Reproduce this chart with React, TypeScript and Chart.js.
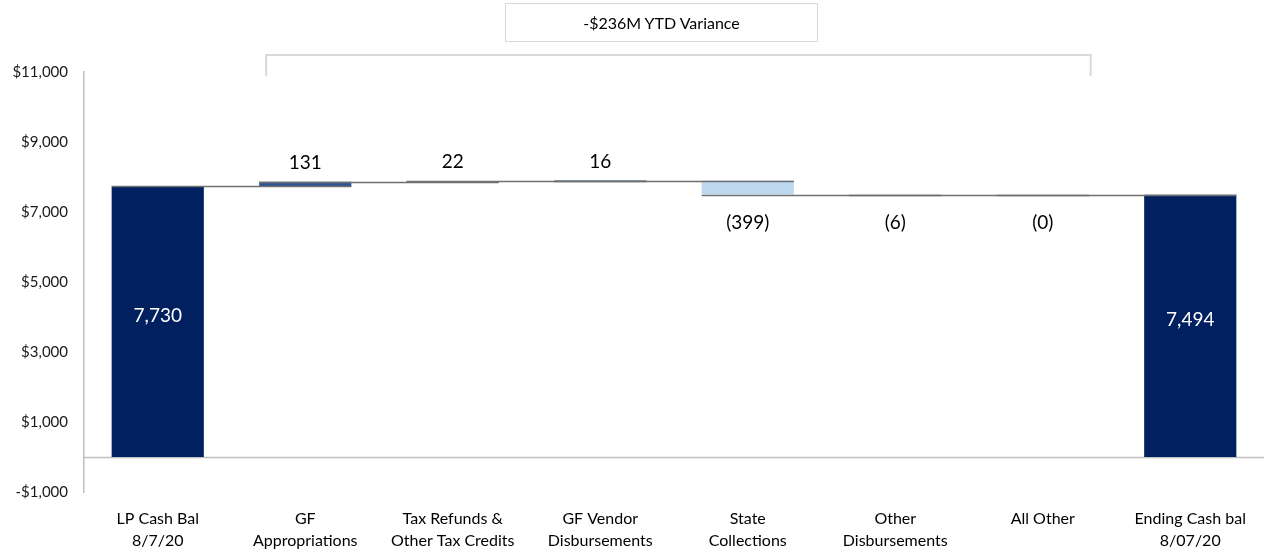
import React, { useEffect, useRef } from "react";
import { Chart, registerables } from "chart.js";

Chart.register(...registerables);

// ---------- data ----------
const categories: string[][] = [
  ["LP Cash Bal", "8/7/20"],
  ["GF", "Appropriations"],
  ["Tax Refunds &", "Other Tax Credits"],
  ["GF Vendor", "Disbursements"],
  ["State", "Collections"],
  ["Other", "Disbursements"],
  ["All Other"],
  ["Ending Cash bal", "8/07/20"],
];
const startBalance = 7730;
const changes = [131, 22, 16, -399, -6, 0];
const endBalance = 7494;
const valueLabels = ["7,730", "131", "22", "16", "(399)", "(6)", "(0)", "7,494"];
const yMin = -1000;
const yMax = 11000;
const yStep = 2000;
const varianceText = "-$236M YTD Variance";

// ---------- styles ----------
const NAVY = "#002060";
const UP = "#2F5597";
const DOWN = "#BDD7EE";
const FONT = "Lato, 'Open Sans', sans-serif";

export default function App() {
  const canvasRef = useRef<HTMLCanvasElement | null>(null);

  useEffect(() => {
    if (!canvasRef.current) return;

    const floating: number[][] = [[0, startBalance]];
    let run = startBalance;
    changes.forEach((c) => {
      floating.push([run, run + c]);
      run += c;
    });
    floating.push([0, endBalance]);

    const colors = floating.map((_, i) => {
      if (i === 0 || i === floating.length - 1) return NAVY;
      return changes[i - 1] > 0 ? UP : DOWN;
    });

    const zeroLinePlugin = {
      id: "zeroLine",
      beforeDatasetsDraw(chart: any) {
        const ctx = chart.ctx;
        const area = chart.chartArea;
        const py = Math.round(chart.scales.y.getPixelForValue(0)) + 0.5;
        ctx.save();
        ctx.strokeStyle = "#bfbfbf";
        ctx.lineWidth = 1.5;
        ctx.beginPath();
        ctx.moveTo(area.left, py);
        ctx.lineTo(area.right, py);
        ctx.stroke();
        ctx.restore();
      },
    };

    const waterfallPlugin = {
      id: "waterfallExtras",
      afterDatasetsDraw(chart: any) {
        const ctx = chart.ctx;
        const meta = chart.getDatasetMeta(0);
        const y = chart.scales.y;
        const area = chart.chartArea;
        ctx.save();
        // connectors
        ctx.strokeStyle = "#6f6f6f";
        ctx.lineWidth = 1.5;
        for (let i = 0; i < floating.length - 1; i++) {
          const a = meta.data[i];
          const b = meta.data[i + 1];
          const level = floating[i][1];
          const py = Math.round(y.getPixelForValue(level)) + 0.5;
          ctx.beginPath();
          ctx.moveTo(a.x - a.width / 2, py);
          ctx.lineTo(b.x + b.width / 2, py);
          ctx.stroke();
        }
        // labels
        ctx.textAlign = "center";
        ctx.textBaseline = "middle";
        ctx.font = `19px ${FONT}`;
        for (let i = 0; i < floating.length; i++) {
          const el = meta.data[i];
          const [s, e] = floating[i];
          if (i === 0 || i === floating.length - 1) {
            ctx.fillStyle = "#ffffff";
            const mid = (y.getPixelForValue(s) + y.getPixelForValue(e)) / 2;
            ctx.fillText(valueLabels[i], el.x, mid - 6);
          } else if (changes[i - 1] > 0) {
            ctx.fillStyle = "#000000";
            ctx.fillText(valueLabels[i], el.x, y.getPixelForValue(Math.max(s, e)) - 19);
          } else {
            ctx.fillStyle = "#000000";
            ctx.fillText(valueLabels[i], el.x, y.getPixelForValue(Math.min(s, e)) + 28);
          }
        }
        // bracket
        const catW = (area.right - area.left) / floating.length;
        const left = meta.data[1].x - 0.265 * catW;
        const right = meta.data[6].x + 0.325 * catW;
        const top = area.top - 17;
        ctx.strokeStyle = "#d9d9d9";
        ctx.lineWidth = 2;
        ctx.beginPath();
        ctx.moveTo(left, top + 21);
        ctx.lineTo(left, top);
        ctx.lineTo(right, top);
        ctx.lineTo(right, top + 21);
        ctx.stroke();
        ctx.restore();
      },
    };

    const chart = new Chart(canvasRef.current, {
      type: "bar",
      data: {
        labels: categories,
        datasets: [
          {
            data: floating as any,
            backgroundColor: colors,
            borderWidth: 0,
            barPercentage: 0.625,
            categoryPercentage: 1,
          },
        ],
      },
      options: {
        animation: false,
        responsive: true,
        maintainAspectRatio: false,
        layout: { padding: { top: 72, right: 3, left: 0, bottom: 0 } },
        plugins: {
          legend: { display: false },
          tooltip: { enabled: false },
          title: { display: false },
        },
        scales: {
          x: {
            grid: { display: false, drawTicks: false },
            border: { display: false },
            ticks: {
              color: "#000000",
              font: { family: FONT, size: 16, lineHeight: 1.35 },
              padding: 16,
              maxRotation: 0,
              autoSkip: false,
            },
            afterFit(scale: any) {
              scale.height = 61;
            },
          },
          y: {
            min: yMin,
            max: yMax,
            ticks: {
              stepSize: yStep,
              color: "#1a1a1a",
              font: { family: FONT, size: 15 },
              padding: 16,
              callback: (v: any) => {
                const n = Number(v);
                const s = "$" + Math.abs(n).toLocaleString("en-US");
                return n < 0 ? "-" + s : s;
              },
            },
            grid: { display: false, drawTicks: false },
            border: { display: true, color: "#bfbfbf", width: 1.5 },
            afterFit(scale: any) {
              scale.width = 84;
            },
          },
        },
      },
      plugins: [zeroLinePlugin, waterfallPlugin],
    });

    return () => chart.destroy();
  }, []);

  return (
    <div style={{ position: "fixed", left: 0, top: 0, width: 1267, height: 553, background: "#fff" }}>
      <canvas ref={canvasRef} />
      <div
        style={{
          position: "absolute",
          left: 505,
          top: 3,
          width: 313,
          height: 39,
          boxSizing: "border-box",
          border: "1px solid #d9d9d9",
          display: "flex",
          alignItems: "center",
          justifyContent: "center",
          fontFamily: FONT,
          fontSize: 16,
          color: "#000",
        }}
      >
        {varianceText}
      </div>
    </div>
  );
}
